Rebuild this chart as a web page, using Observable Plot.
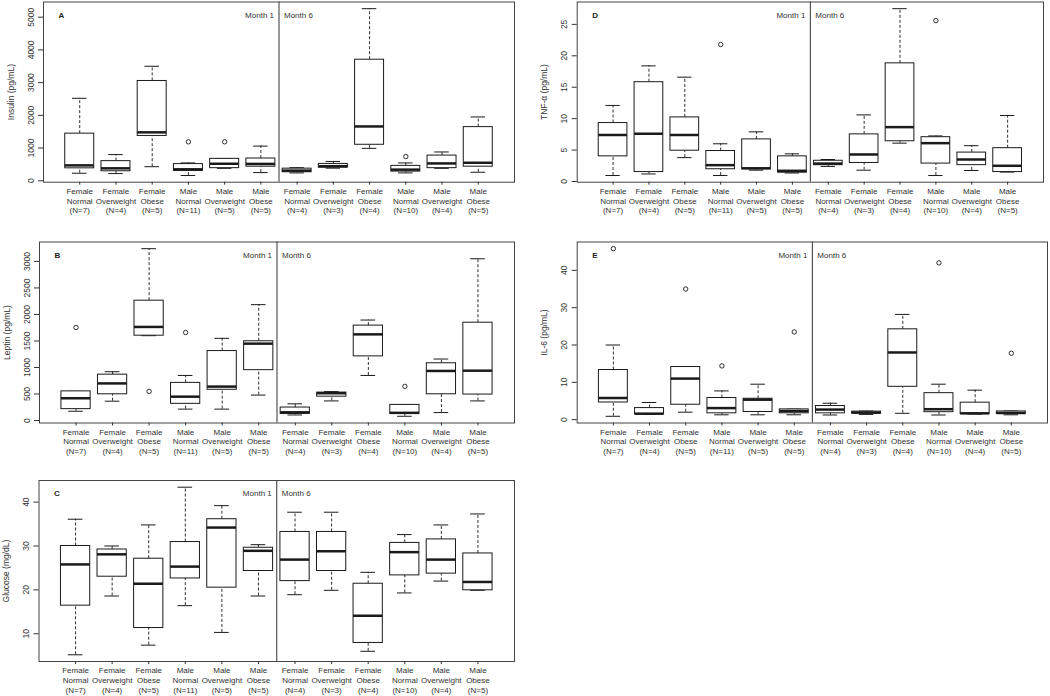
<!DOCTYPE html>
<html><head><meta charset="utf-8">
<script src="https://cdn.jsdelivr.net/npm/d3@7"></script>
<script src="https://cdn.jsdelivr.net/npm/@observablehq/plot@0.6"></script>
<style>
html,body{margin:0;padding:0;background:#fff}
body{width:1050px;height:696px;position:relative;overflow:hidden;font-family:"Liberation Sans",Arial,sans-serif}
.panel{position:absolute}
.panel svg{overflow:visible;display:block}
</style></head><body>
<div id="pA" class="panel" style="left:0px;top:0px"></div>
<div id="pB" class="panel" style="left:0px;top:230px"></div>
<div id="pC" class="panel" style="left:0px;top:470px"></div>
<div id="pD" class="panel" style="left:530px;top:0px"></div>
<div id="pE" class="panel" style="left:530px;top:230px"></div>
<script>
// Groups (Month 1: first six, Month 6: last six)
const groupNames = ["Female\nNormal","Female\nOverweight","Female\nObese","Male\nNormal","Male\nOverweight","Male\nObese",
                    "Female\nNormal","Female\nOverweight","Female\nObese","Male\nNormal","Male\nOverweight","Male\nObese"];
const groupN = [7,4,5,11,5,5,4,3,4,10,4,5];
const monthLabels = ["Month 1","Month 6"];

// each box: [lower whisker, Q1, median, Q3, upper whisker]
const insulinBoxes = [[230,380,470,1440,2520],[220,290,380,600,800],[430,1370,1480,3050,3500],[160,300,350,510,545],[380,385,520,670,680],[250,430,515,680,1060],
                      [240,260,310,370,400],[385,400,445,515,590],[990,1100,1660,3700,5260],[240,280,340,455,545],[380,385,530,770,880],[260,430,550,1640,1950]];
const insulinOutliers = [[4,1190],[5,1190],[10,740]];
const insulinTicks = [0,1000,2000,3000,4000,5000];

const leptinBoxes = [[175,215,420,550,550],[365,495,700,865,920],[1600,1600,1765,2260,3240],[215,315,450,710,850],[215,580,640,1310,1550],[480,950,1450,1495,2185],
                     [105,125,155,245,315],[370,450,515,527,545],[850,1210,1625,1790,1895],[80,125,145,295,295],[150,495,935,1080,1160],[370,490,940,1845,3050]];
const leptinOutliers = [[1,1755],[3,550],[4,1660],[10,645]];
const leptinTicks = [0,500,1000,1500,2000,2500,3000];

const glucoseBoxes = [[5.2,16.4,25.8,30,36.1],[18.6,23,28.1,29.2,30],[7.4,11.3,21.4,27.1,34.8],[16.4,22.6,25.3,30.9,43.4],[10.3,20.5,34.2,36.1,39.2],[18.6,24.3,28.9,29.6,30.3],
                      [18.9,22,26.9,33.2,37.7],[19.9,24.3,28.8,33.2,37.7],[6.0,7.9,14.1,21.4,24.0],[19.3,23.3,28.6,30.7,32.6],[22.0,23.7,26.9,31.5,34.8],[19.9,19.9,21.8,28.3,37.3]];
const glucoseOutliers = [];
const glucoseTicks = [10,20,30,40];

const tnfBoxes = [[0.95,4.0,7.4,9.3,12.1],[1.2,1.5,7.6,15.8,18.4],[3.8,4.9,7.4,10.2,16.6],[0.95,1.95,2.6,4.85,6.0],[1.8,1.95,2.1,6.7,7.9],[1.35,1.4,1.7,4.0,4.4],
                  [2.4,2.6,2.85,3.3,3.5],[1.8,2.95,4.3,7.5,10.6],[6.1,6.4,8.65,18.8,27.5],[0.95,2.85,6.1,7.05,7.25],[1.75,2.6,3.5,4.6,5.7],[1.5,1.5,2.5,5.3,10.5]];
const tnfOutliers = [[4,21.8],[10,25.6]];
const tnfTicks = [0,5,10,15,20,25];

const il6Boxes = [[0.9,4.6,5.8,13.3,20],[1.4,1.45,1.6,3.1,4.6],[2.0,4.0,11.0,14.1,14.1],[1.3,1.7,3.1,5.8,7.7],[1.3,2.05,5.35,5.6,9.5],[1.3,1.7,2.3,2.75,2.8],
                  [1.25,1.7,2.7,3.65,4.4],[1.4,1.6,1.9,2.15,2.3],[1.7,8.8,18.0,24.2,28.2],[1.25,2.0,2.8,7.1,9.5],[1.5,1.5,1.7,4.55,7.9],[1.3,1.5,1.8,2.2,2.3]];
const il6Outliers = [[1,45.8],[3,35],[4,14.4],[6,23.5],[10,42],[12,17.8]];
const il6Ticks = [0,10,20,30,40];

const FONT = '"Liberation Sans", Arial, sans-serif';
const INK = "#1a1a1a";

function panel(el, {stats, outliers, ticks, title, letter, width, height, ml, mr, mt, mb}) {
  const boxes = stats.map(([lo,q1,med,q3,hi], i) => ({g: i + 1, lo, q1, med, q3, hi}));
  const outs = outliers.map(([g, v]) => ({g, v}));
  const all = stats.flat().concat(outliers.map(d => d[1]));
  const [mn, mx] = d3.extent(all);
  const pad = (mx - mn) * 0.04;
  const chart = Plot.plot({
    width, height, marginLeft: ml, marginRight: mr, marginTop: mt, marginBottom: mb,
    style: {fontFamily: FONT, fontSize: "8px", color: "#333", background: "transparent", overflow: "visible"},
    x: {domain: [0, 13], label: null},
    y: {domain: [mn - pad, mx + pad], label: null},
    marks: [
      Plot.ruleX(boxes, {x: "g", y1: "q3", y2: "hi", stroke: INK, strokeWidth: 0.9, strokeDasharray: "3,2"}),
      Plot.ruleX(boxes, {x: "g", y1: "lo", y2: "q1", stroke: INK, strokeWidth: 0.9, strokeDasharray: "3,2"}),
      Plot.ruleY(boxes, {y: "hi", x1: d => d.g - 0.2, x2: d => d.g + 0.2, stroke: INK, strokeWidth: 1}),
      Plot.ruleY(boxes, {y: "lo", x1: d => d.g - 0.2, x2: d => d.g + 0.2, stroke: INK, strokeWidth: 1}),
      Plot.rect(boxes, {x1: d => d.g - 0.4, x2: d => d.g + 0.4, y1: "q1", y2: "q3", fill: "white", stroke: INK, strokeWidth: 1}),
      Plot.ruleY(boxes, {y: "med", x1: d => d.g - 0.4, x2: d => d.g + 0.4, stroke: INK, strokeWidth: 2.5}),
      Plot.dot(outs, {x: "g", y: "v", r: 2.2, stroke: INK, strokeWidth: 0.9, fill: "none"}),
      Plot.ruleX([6.5], {stroke: "#333", strokeWidth: 1}),
      Plot.frame({stroke: "#444", strokeWidth: 1}),
      Plot.axisX({ticks: d3.range(1, 13), tickSize: 3, tickPadding: 2, fontSize: 8, lineHeight: 1.2,
                  tickFormat: g => `${groupNames[g - 1]}\n(N=${groupN[g - 1]})`, label: null}),
      Plot.axisY({ticks, tickSize: 5, tickFormat: () => "", label: null}),
      Plot.text(ticks, {y: d => d, text: d => String(d), frameAnchor: "left", dx: -10, rotate: -90,
                        textAnchor: "middle", lineAnchor: "bottom", fontSize: 8.5, fill: "#333"}),
      Plot.text([title], {frameAnchor: "left", dx: -30, rotate: -90, textAnchor: "middle", lineAnchor: "bottom", fontSize: 8.5, fill: "#333"}),
      Plot.text([letter], {frameAnchor: "top-left", dx: 15, dy: 10, fontWeight: "bold", fontSize: 8, fill: "#222"}),
      Plot.text([monthLabels[0]], {x: [6.5], frameAnchor: "top", dx: -5, dy: 10, textAnchor: "end", fontSize: 8, fill: "#333"}),
      Plot.text([monthLabels[1]], {x: [6.5], frameAnchor: "top", dx: 5, dy: 10, textAnchor: "start", fontSize: 8, fill: "#333"})
    ]
  });
  document.getElementById(el).append(chart);
}

panel("pA", {stats: insulinBoxes, outliers: insulinOutliers, ticks: insulinTicks, title: "Insulin (pg/mL)", letter: "A",
             width: 520, height: 222, ml: 43, mr: 6, mt: 1.5, mb: 40.3});
panel("pB", {stats: leptinBoxes, outliers: leptinOutliers, ticks: leptinTicks, title: "Leptin (pg/mL)", letter: "B",
             width: 520, height: 232, ml: 39, mr: 6, mt: 11.5, mb: 39.5});
panel("pC", {stats: glucoseBoxes, outliers: glucoseOutliers, ticks: glucoseTicks, title: "Glucose (mg/dL)", letter: "C",
             width: 520, height: 226, ml: 38.5, mr: 6, mt: 10, mb: 35});
panel("pD", {stats: tnfBoxes, outliers: tnfOutliers, ticks: tnfTicks, title: "TNF-α (pg/mL)", letter: "D",
             width: 520, height: 222, ml: 46.7, mr: 7, mt: 1.5, mb: 40.3});
panel("pE", {stats: il6Boxes, outliers: il6Outliers, ticks: il6Ticks, title: "IL-6 (pg/mL)", letter: "E",
             width: 520, height: 232, ml: 46.7, mr: 3, mt: 11.5, mb: 39.5});
</script>
</body></html>
